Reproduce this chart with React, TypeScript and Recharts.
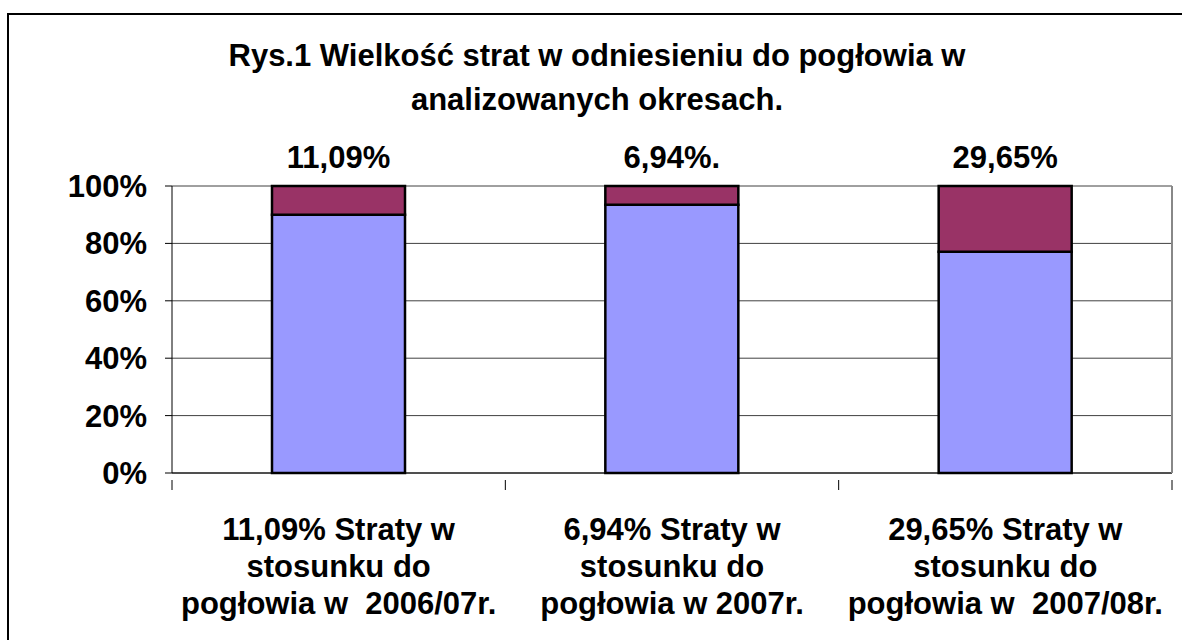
import React from "react";
import { BarChart, Bar, XAxis, YAxis, CartesianGrid, LabelList } from "recharts";

const titleLines = ["Rys.1 Wielkość strat w odniesieniu do pogłowia w", "analizowanych okresach."];
const categories = [
  ["11,09% Straty w", "stosunku do", "pogłowia w  2006/07r."],
  ["6,94% Straty w", "stosunku do", "pogłowia w 2007r."],
  ["29,65% Straty w", "stosunku do", "pogłowia w  2007/08r."],
];
const herdValues = [100, 100, 100];
const lossValues = [11.09, 6.94, 29.65];
const lossLabels = ["11,09%", "6,94%.", "29,65%"];
const yTicks = [0, 0.2, 0.4, 0.6, 0.8, 1];

const data = categories.map((c, i) => ({
  name: String(i),
  herd: herdValues[i],
  loss: lossValues[i],
}));

const FONT = "'Liberation Sans', Arial, sans-serif";

const XTick = (props: any) => {
  const { x, y, payload, index } = props;
  const off = payload.offset || 0;
  const lines = categories[Number(payload.value)] || [];
  return (
    <g>
      <line x1={x - off} x2={x - off} y1={y - 1} y2={y + 9} stroke="#000" strokeWidth={1} />
      {index === categories.length - 1 && (
        <line x1={x + off} x2={x + off} y1={y - 1} y2={y + 9} stroke="#000" strokeWidth={1} />
      )}
      {lines.map((l, i) => (
        <text
          key={i}
          x={x}
          y={y + 59 + i * 37}
          textAnchor="middle"
          fontFamily={FONT}
          fontWeight="bold"
          fontSize={31}
          fill="#000"
          style={{ whiteSpace: "pre" }}
        >
          {l}
        </text>
      ))}
    </g>
  );
};

const TopLabel = (props: any) => {
  const { x, y, width, index } = props;
  return (
    <text
      x={x + width / 2}
      y={y - 18}
      textAnchor="middle"
      fontFamily={FONT}
      fontWeight="bold"
      fontSize={31}
      fill="#000"
    >
      {lossLabels[index]}
    </text>
  );
};

export default function App() {
  return (
    <div style={{ position: "absolute", left: 0, top: 0, width: 1182, height: 640, background: "#fff", overflow: "hidden" }}>
      <div
        style={{
          position: "absolute",
          left: 7,
          top: 13,
          width: 1200,
          height: 700,
          borderLeft: "2px solid #000",
          borderTop: "2px solid #000",
        }}
      />
      <svg width={1182} height={140} style={{ position: "absolute", left: 0, top: 0 }}>
        {titleLines.map((t, i) => (
          <text
            key={i}
            x={597}
            y={66 + i * 44}
            textAnchor="middle"
            fontFamily={FONT}
            fontWeight="bold"
            fontSize={31}
            fill="#000"
          >
            {t}
          </text>
        ))}
      </svg>
      <div style={{ position: "absolute", left: 0, top: 0 }}>
        <BarChart
          width={1182}
          height={640}
          data={data}
          stackOffset="expand"
          barCategoryGap="30%"
          margin={{ top: 186, right: 9, bottom: 0, left: 0 }}
        >
          <CartesianGrid vertical={false} stroke="#404040" strokeWidth={1} />
          <XAxis
            dataKey="name"
            tick={<XTick />}
            tickLine={false}
            axisLine={{ stroke: "#000", strokeWidth: 1 }}
            interval={0}
            height={167}
          />
          <XAxis xAxisId="top" dataKey="name" orientation="top" tick={false} tickLine={false} height={0} axisLine={{ stroke: "#888888", strokeWidth: 2 }} />
          <YAxis
            ticks={yTicks}
            domain={[0, 1]}
            tickFormatter={(v: number) => `${Math.round(v * 100)}%`}
            width={172}
            tick={{ fontFamily: FONT, fontWeight: "bold", fontSize: 31, fill: "#000" }}
            tickLine={{ stroke: "#000" }}
            tickSize={7}
            tickMargin={18}
            axisLine={{ stroke: "#000", strokeWidth: 1 }}
            interval={0}
          />
          <YAxis yAxisId="right" orientation="right" width={1} domain={[0, 1]} tick={false} tickLine={false} axisLine={{ stroke: "#888888", strokeWidth: 2 }} />
          <Bar dataKey="herd" stackId="a" fill="#9999FF" stroke="#000" strokeWidth={2.5} isAnimationActive={false} />
          <Bar dataKey="loss" stackId="a" fill="#993366" stroke="#000" strokeWidth={2.5} isAnimationActive={false}>
            <LabelList dataKey="loss" content={<TopLabel />} />
          </Bar>
        </BarChart>
      </div>
    </div>
  );
}
